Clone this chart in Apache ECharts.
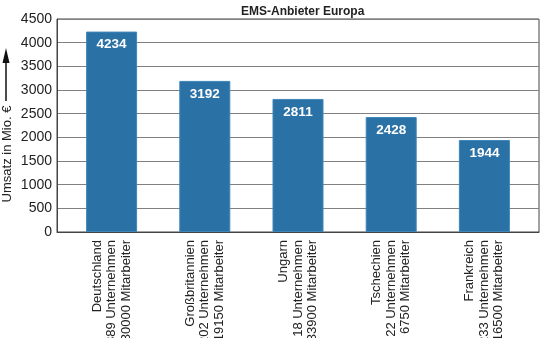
<!DOCTYPE html>
<html>
<head>
<meta charset="utf-8">
<script src="https://cdn.jsdelivr.net/npm/echarts@6/dist/echarts.min.js"></script>
<style>
  html, body { margin: 0; padding: 0; background: #fff; }
  #chart { width: 540px; height: 338px; }
</style>
</head>
<body>
<div id="chart"></div>
<script>
// Umsatz der EMS-Anbieter nach Land
const countries = ['Deutschland', 'Großbritannien', 'Ungarn', 'Tschechien', 'Frankreich'];
const companies = ['389 Unternehmen', '202 Unternehmen', '18 Unternehmen', '22 Unternehmen', '233 Unternehmen'];
const employees = ['30000 Mitarbeiter', '19150 Mitarbeiter', '33900 Mitarbeiter', '6750 Mitarbeiter', '16500 Mitarbeiter'];
const revenue = [4234, 3192, 2811, 2428, 1944];
const yTicks = [0, 500, 1000, 1500, 2000, 2500, 3000, 3500, 4000, 4500];

const categories = countries.map((c, i) => c + '\n' + companies[i] + '\n' + employees[i]);
const font = 'Liberation Sans, Arial, sans-serif';
const yMin = yTicks[0], yMax = yTicks[yTicks.length - 1], yStep = yTicks[1] - yTicks[0];

const chart = echarts.init(document.getElementById('chart'));
chart.setOption({
  animation: false,
  backgroundColor: '#fff',
  title: {
    text: 'EMS-Anbieter Europa',
    left: 236, top: 1,
    textStyle: { fontFamily: font, fontSize: 12, fontWeight: 'bold', color: '#222' }
  },
  grid: [
    // frame with value axis and gridlines
    { left: 57, right: 1, top: 19, bottom: 106, outerBoundsMode: 'none', containLabel: false,
      show: true, borderColor: '#444', borderWidth: 1, backgroundColor: 'transparent' },
    // bars
    { left: 65, right: 9, top: 19, bottom: 106, outerBoundsMode: 'none', containLabel: false }
  ],
  xAxis: [
    { gridIndex: 0, type: 'value', min: 0, max: 1, show: true,
      axisLine: { show: true, lineStyle: { color: '#444', width: 1 } },
      axisTick: { show: false }, axisLabel: { show: false }, splitLine: { show: false } },
    { gridIndex: 1, type: 'category', data: categories,
      axisLine: { show: false }, axisTick: { show: false },
      axisLabel: { rotate: 90, margin: 8, fontFamily: font, fontSize: 13, lineHeight: 14.5, color: '#222',
                   interval: 0, hideOverlap: false, overflow: 'none' } }
  ],
  yAxis: [
    { gridIndex: 0, type: 'value', min: yMin, max: yMax, interval: yStep,
      axisLine: { show: true, lineStyle: { color: '#444', width: 1 } },
      axisTick: { show: false },
      axisLabel: { margin: 5, fontFamily: font, fontSize: 14, color: '#222', formatter: v => String(v) },
      splitLine: { show: true, lineStyle: { color: '#808080', width: 1 } } },
    { gridIndex: 1, type: 'value', min: yMin, max: yMax, interval: yStep, show: false, splitLine: { show: false } }
  ],
  series: [{
    type: 'bar',
    xAxisIndex: 1, yAxisIndex: 1,
    data: revenue,
    barWidth: 51,
    itemStyle: { color: '#2a71a6', borderColor: '#3f86b8', borderWidth: 1 },
    label: {
      show: true, position: 'insideTop', distance: 6,
      color: '#fff', fontFamily: font, fontSize: 13.5, fontWeight: 'bold'
    }
  }],
  graphic: [
    { type: 'text', x: 7, y: 154, rotation: Math.PI / 2,
      style: { text: 'Umsatz in Mio. €', fontFamily: font, fontSize: 13, fill: '#222',
               align: 'center', verticalAlign: 'middle' } },
    { type: 'line', shape: { x1: 6, y1: 101, x2: 6, y2: 62 }, style: { stroke: '#111', lineWidth: 1.5 } },
    { type: 'polygon', shape: { points: [[6, 48], [2.5, 63], [9.5, 63]] }, style: { fill: '#111' } }
  ]
});
</script>
</body>
</html>
